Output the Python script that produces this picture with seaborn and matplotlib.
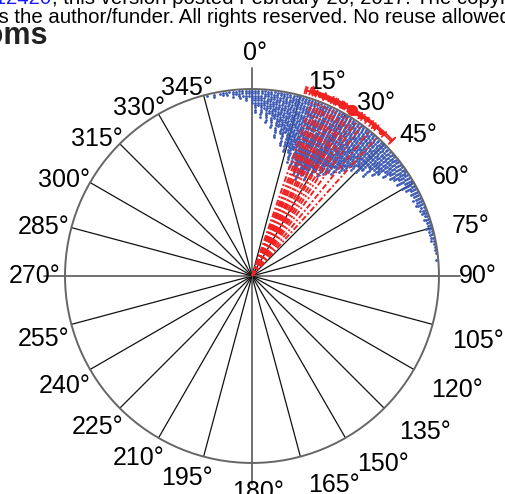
import numpy as np
import pandas as pd
import matplotlib
matplotlib.use("Agg")
import matplotlib.pyplot as plt
import seaborn as sns

sns.set_theme(style="white")
plt.rcParams['font.family'] = ['Liberation Sans', 'DejaVu Sans']

# stacked dot counts, one bin per degree, starting at -14° (346°) up to 85°
dot_start_deg = -14
dot_counts = [
    1, 0, 2, 0, 1, 2, 2, 1, 3, 2,
    4, 3, 5, 3, 6, 10, 7, 12, 8, 14,
    10, 16, 12, 20, 15, 18, 23, 17, 25, 22,
    25, 29, 23, 31, 27, 30, 33, 28, 35, 31,
    32, 29, 33, 27, 30, 28, 25, 29, 23, 27,
    25, 22, 25, 20, 22, 20, 17, 18, 15, 17,
    15, 12, 16, 11, 13, 11, 8, 10, 7, 8,
    7, 5, 7, 4, 6, 5, 3, 4, 3, 4,
    3, 4, 2, 3, 3, 2, 3, 2, 2, 3,
    2, 2, 2, 2, 1, 1, 1, 1, 0, 1,
]

# per-trial mean directions (deg) and their angular spread (deg)
trial_angles = [19, 20.5, 21.5, 22.5, 23.5, 25, 26, 27, 28.5, 30, 31, 32.5, 34, 36, 39, 42]
trial_spread = [3, 4, 3, 5, 4, 3, 4, 5, 3, 4, 3, 4, 5, 4, 4, 4]

# grand mean direction and its interval (deg)
grand_mean = 31
grand_low, grand_high = 18, 46

tick_angles = list(range(0, 360, 15))
tick_labels = [f"{a}°" for a in tick_angles]

BLUE = "#3a57b3"
RED = "#f02222"

rows = []
for i, c in enumerate(dot_counts):
    deg = dot_start_deg + i
    for k in range(c):
        rows.append((np.deg2rad(deg), 0.99 - k * 0.0125))
dots = pd.DataFrame(rows, columns=["theta", "r"])

fig = plt.figure(figsize=(5.06, 4.94), dpi=100)
ax = fig.add_axes([0.1285, 0.0628, 0.739, 0.757], projection="polar")
ax.set_theta_zero_location("N")
ax.set_theta_direction(-1)

# spokes
for a in tick_angles:
    t = np.deg2rad(a)
    if a % 90 == 0:
        ax.plot([t, t], [0, 1.11], color="#666666", lw=1.3, clip_on=False, zorder=1)
    else:
        ax.plot([t, t], [0, 1.0], color="#111111", lw=0.9, zorder=1)

# stacked dots
sns.scatterplot(data=dots, x="theta", y="r", ax=ax, s=4, color=BLUE,
                marker="o", linewidth=0, zorder=2, legend=False)

# per-trial mean direction lines
for a in trial_angles:
    t = np.deg2rad(a)
    ax.plot([t, t], [0, 1.0], color=RED, lw=1.4, ls=(0, (3, 1.2, 1, 1.2)), zorder=3)

# error bars just outside the rim
r_bar = 1.035
for a, w in zip(trial_angles, trial_spread):
    th = np.deg2rad(np.linspace(a - w, a + w, 20))
    ax.plot(th, np.full_like(th, r_bar), color=RED, lw=1.2, clip_on=False, zorder=4)
    for e in (a - w, a + w):
        te = np.deg2rad(e)
        ax.plot([te, te], [r_bar - 0.018, r_bar + 0.018], color=RED, lw=1.2,
                clip_on=False, zorder=4)
    ax.plot([np.deg2rad(a)], [r_bar], "o", color=RED, ms=3, clip_on=False, zorder=4)

th = np.deg2rad(np.linspace(grand_low, grand_high, 40))
ax.plot(th, np.full_like(th, r_bar + 0.01), color=RED, lw=1.4, clip_on=False, zorder=4)
for e in (grand_low, grand_high):
    te = np.deg2rad(e)
    ax.plot([te, te], [r_bar - 0.01, r_bar + 0.03], color=RED, lw=1.4,
            clip_on=False, zorder=4)
ax.plot([np.deg2rad(grand_mean)], [r_bar], "o", color=RED, ms=7, clip_on=False, zorder=5)

ax.set_ylim(0, 1)
ax.set_xticks([])
ax.set_yticks([])
ax.grid(False)
ax.set_xlabel("")
ax.set_ylabel("")
ax.spines["polar"].set_color("#666666")
ax.spines["polar"].set_linewidth(1.4)

# angle labels
for a, lab in zip(tick_angles, tick_labels):
    t = np.deg2rad(a)
    s, c = np.sin(t), np.cos(t)
    dx, dy = 0.0, 0.0
    if a == 0:
        r, ha, va = 1.13, "center", "bottom"
        dx = 3
    elif a == 180:
        r, ha, va = 1.09, "center", "top"
        dx = 6
    else:
        r = 1.09 if s > 0 else 1.05
        ha = "left" if s > 0 else "right"
        va = "center" if c >= -0.01 else "top"
        if a in (90, 270):
            va = "center"
        if s > 0:
            dx = 3
            dy = -3 if c > 0.01 else 0
        else:
            dx = 5 + 7 * abs(c)
            dy = -2 if c > 0.01 else 0
    ax.annotate(lab, xy=(t, r), xytext=(dx * 0.72, dy * 0.72), textcoords="offset points",
                ha=ha, va=va, fontsize=18, color="black", annotation_clip=False)

# page text above the figure
H = 494.0
fig.text(52 / 506, 1 - 4 / H, "112420", color="#1a1aff", fontsize=14.7,
         ha="right", va="baseline")
fig.text(52 / 506, 1 - 4 / H,
         ", this version posted February 26, 2017. The copyright holder for this preprint",
         color="black", fontsize=14.7, ha="left", va="baseline")
fig.text(-6 / 506, 1 - 23 / H,
         "is the author/funder. All rights reserved. No reuse allowed without permission.",
         color="black", fontsize=14.7, ha="left", va="baseline")
fig.text(47 / 506, 1 - 44 / H, "Rooms", color="#222222", fontsize=22,
         fontweight="bold", ha="right", va="baseline")

fig.savefig("out.png", dpi=100)
